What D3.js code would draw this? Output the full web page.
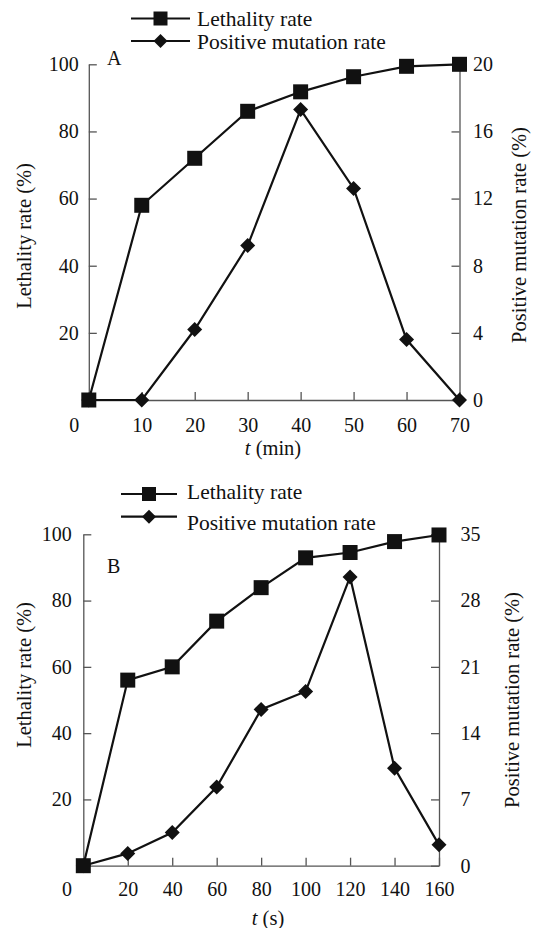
<!DOCTYPE html>
<html>
<head>
<meta charset="utf-8">
<script src="https://cdn.jsdelivr.net/npm/d3@7"></script>
<style>
  html, body { margin: 0; padding: 0; background: #fff; }
  svg text { font-family: "Liberation Serif", "DejaVu Serif", serif; fill: #111; }
</style>
</head>
<body>
<div id="screen"></div>
<script>
// panel A: time in minutes
var timeA = [0, 10, 20, 30, 40, 50, 60, 70];
var lethalA = [0, 58, 72, 86, 91.8, 96.3, 99.4, 100];
var mutationA = [0, 0, 4.2, 9.2, 17.3, 12.6, 3.6, 0];
var leftTicksA = [20, 40, 60, 80, 100];
var rightTicksA = [0, 4, 8, 12, 16, 20];

// panel B: time in seconds
var timeB = [0, 20, 40, 60, 80, 100, 120, 140, 160];
var lethalB = [0, 56, 60, 73.8, 83.9, 92.9, 94.5, 97.8, 99.8];
var mutationB = [0, 1.3, 3.5, 8.3, 16.5, 18.4, 30.5, 10.3, 2.2];
var leftTicksB = [20, 40, 60, 80, 100];
var rightTicksB = [0, 7, 14, 21, 28, 35];

var seriesNames = ["Lethality rate", "Positive mutation rate"];

var width = 537, height = 928;
var svg = d3.select("#screen").append("svg").attr("width", width).attr("height", height);

var axisColour = "#555";
var lineColour = "#111";

var squarePath = function(s) {
    return "M" + (-s/2) + "," + (-s/2) + "h" + s + "v" + s + "h" + (-s) + "Z";
};
var diamondPath = function(r) {
    return "M0," + (-r) + "L" + r + ",0L0," + r + "L" + (-r) + ",0Z";
};

var styleAxis = function(g) {
    g.select(".domain").attr("stroke", axisColour).attr("stroke-width", 1.3);
    g.selectAll(".tick line").attr("stroke", axisColour).attr("stroke-width", 1.3);
    g.selectAll(".tick text").attr("fill", "#111")
        .style("font-family", '"Liberation Serif", serif').style("font-size", "20px");
};

const buildPanel = function(p) {
    var x = d3.scaleLinear().domain([0, p.times[p.times.length - 1]]).range([p.left, p.right]);
    var yL = d3.scaleLinear().domain([0, 100]).range([p.bottom, p.top]);
    var yR = d3.scaleLinear().domain([0, p.rightTicks[p.rightTicks.length - 1]]).range([p.bottom, p.top]);

    var g = svg.append("g");

    // x axis, ticks point inward, the 0 label sits left of the corner
    var xAxis = g.append("g").attr("transform", "translate(0," + p.bottom + ")")
        .call(d3.axisBottom(x).tickValues(p.times).tickSizeInner(-8).tickSizeOuter(0).tickPadding(p.xPad));
    styleAxis(xAxis);
    xAxis.selectAll(".tick").filter(d => d === 0).select("line").remove();
    xAxis.selectAll(".tick").filter(d => d === 0).select("text").attr("x", p.zeroShift);

    var yAxisL = g.append("g").attr("transform", "translate(" + p.left + ",0)")
        .call(d3.axisLeft(yL).tickValues(p.leftTicks).tickSizeInner(-8).tickSizeOuter(0).tickPadding(p.leftPad));
    styleAxis(yAxisL);

    var yAxisR = g.append("g").attr("transform", "translate(" + p.right + ",0)")
        .call(d3.axisRight(yR).tickValues(p.rightTicks).tickSizeInner(-8).tickSizeOuter(0).tickPadding(p.rightPad));
    styleAxis(yAxisR);

    var lethalLine = d3.line().x((d, i) => x(p.times[i])).y(d => yL(d));
    var mutLine = d3.line().x((d, i) => x(p.times[i])).y(d => yR(d));

    g.append("path").datum(p.mutation).attr("d", mutLine)
        .attr("fill", "none").attr("stroke", lineColour).attr("stroke-width", 2.2);
    g.append("path").datum(p.lethal).attr("d", lethalLine)
        .attr("fill", "none").attr("stroke", lineColour).attr("stroke-width", 2.2);

    g.selectAll(".dia").data(p.mutation).enter().append("path")
        .attr("transform", (d, i) => "translate(" + x(p.times[i]) + "," + yR(d) + ")")
        .attr("d", diamondPath(7.5)).attr("fill", lineColour);
    g.selectAll(".sq").data(p.lethal).enter().append("path")
        .attr("transform", (d, i) => "translate(" + x(p.times[i]) + "," + yL(d) + ")")
        .attr("d", squarePath(15)).attr("fill", lineColour);

    // legend
    var leg = p.legend;
    leg.rows.forEach(function(row, i) {
        g.append("line").attr("x1", leg.x1).attr("x2", leg.x2).attr("y1", row.y).attr("y2", row.y)
            .attr("stroke", lineColour).attr("stroke-width", 2.2);
        g.append("path").attr("transform", "translate(" + ((leg.x1 + leg.x2) / 2) + "," + row.y + ")")
            .attr("d", i === 0 ? squarePath(14) : diamondPath(7)).attr("fill", lineColour);
        g.append("text").attr("x", leg.tx).attr("y", row.ty).style("font-size", "21.5px").text(seriesNames[i]);
    });

    g.append("text").attr("x", p.tag.x).attr("y", p.tag.y).style("font-size", "20px").text(p.tag.text);

    var xt = g.append("text").attr("x", p.xTitle.x).attr("y", p.xTitle.y)
        .attr("text-anchor", "middle").style("font-size", "20.5px");
    xt.append("tspan").style("font-style", "italic").text("t");
    xt.append("tspan").text(" (" + p.xTitle.unit + ")");

    g.append("text").attr("transform", "translate(" + p.lTitle.x + "," + p.lTitle.y + ") rotate(-90)")
        .attr("text-anchor", "middle").style("font-size", "20.5px").text("Lethality rate (%)");
    g.append("text").attr("transform", "translate(" + p.rTitle.x + "," + p.rTitle.y + ") rotate(-90)")
        .attr("text-anchor", "middle").style("font-size", "20.5px").text("Positive mutation rate (%)");
};

buildPanel({
    times: timeA, lethal: lethalA, mutation: mutationA,
    leftTicks: leftTicksA, rightTicks: rightTicksA,
    left: 88.8, right: 459.5, top: 64.3, bottom: 400,
    xPad: 17.5, leftPad: 10, rightPad: 13.5, zeroShift: -15,
    legend: {x1: 131, x2: 190, tx: 197, rows: [{y: 18.5, ty: 25.5}, {y: 41, ty: 48.5}]},
    tag: {x: 107, y: 65, text: "A"},
    xTitle: {x: 273, y: 455, unit: "min"},
    lTitle: {x: 31, y: 236},
    rTitle: {x: 526, y: 235}
});

buildPanel({
    times: timeB, lethal: lethalB, mutation: mutationB,
    leftTicks: leftTicksB, rightTicks: rightTicksB,
    left: 83.3, right: 439, top: 534.3, bottom: 865.7,
    xPad: 16, leftPad: 11.5, rightPad: 21.5, zeroShift: -16.7,
    legend: {x1: 121, x2: 177, tx: 187, rows: [{y: 494, ty: 498.5}, {y: 516.7, ty: 529.5}]},
    tag: {x: 107, y: 573, text: "B"},
    xTitle: {x: 268, y: 925, unit: "s"},
    lTitle: {x: 31, y: 675},
    rTitle: {x: 519, y: 700}
});
</script>
</body>
</html>
